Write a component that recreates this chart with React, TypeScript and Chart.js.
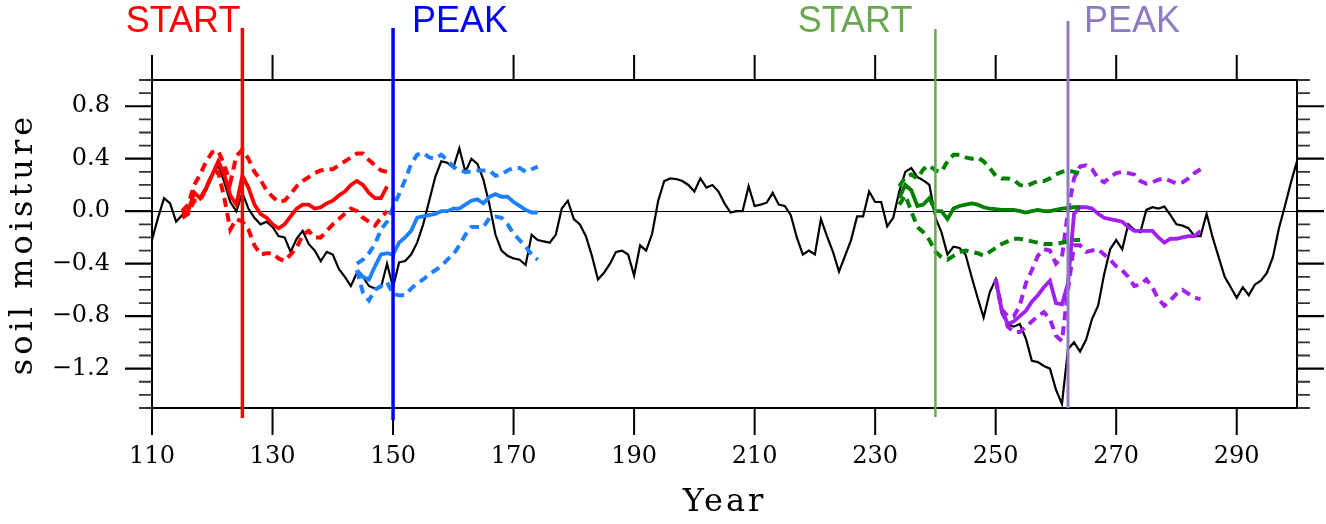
import React, { useEffect, useRef } from "react";
import { Chart, registerables } from "chart.js";

Chart.register(...registerables);

// ---------------- data ----------------
const xTickValues = [110, 130, 150, 170, 190, 210, 230, 250, 270, 290];
const yTickValues = [-1.2, -0.8, -0.4, 0, 0.4, 0.8];
const X_MIN = 110;
const X_MAX = 300;
const Y_MIN = -1.5;
const Y_MAX = 1.0;

const blackStart = 110;
const blackValues = [
  -0.22, -0.05, 0.10, 0.06, -0.08, -0.03, 0.00, 0.15, 0.09, 0.16,
  0.27, 0.35, 0.22, 0.07, 0.00, 0.14, 0.02, -0.05, -0.10, -0.08,
  -0.12, -0.19, -0.20, -0.31, -0.21, -0.15, -0.25, -0.30, -0.38, -0.31,
  -0.33, -0.44, -0.50, -0.57, -0.47, -0.50, -0.57, -0.59, -0.58, -0.40,
  -0.58, -0.39, -0.38, -0.33, -0.24, -0.10, 0.08, 0.26, 0.38, 0.37,
  0.33, 0.48, 0.30, 0.40, 0.36, 0.24, 0.05, -0.18, -0.30, -0.34,
  -0.36, -0.37, -0.41, -0.18, -0.22, -0.23, -0.24, -0.18, 0.02, 0.08,
  -0.06, -0.10, -0.19, -0.34, -0.52, -0.47, -0.40, -0.31, -0.30, -0.33,
  -0.49, -0.26, -0.30, -0.17, 0.08, 0.23, 0.25, 0.245, 0.23, 0.20,
  0.15, 0.25, 0.18, 0.20, 0.15, 0.06, -0.01, 0.00, 0.00, 0.19,
  0.04, 0.05, 0.065, 0.14, 0.05, 0.04, -0.03, -0.20, -0.33, -0.30,
  -0.33, -0.06, -0.19, -0.31, -0.46, -0.34, -0.22, -0.04, -0.04, 0.15,
  0.07, 0.07, -0.115, -0.05, 0.15, 0.30, 0.33, 0.26, 0.235, 0.20,
  -0.05, -0.16, -0.33, -0.27, -0.28, -0.33, -0.50, -0.66, -0.81, -0.62,
  -0.52, -0.78, -0.86, -0.88, -0.86, -0.97, -1.14, -1.15, -1.18, -1.20,
  -1.36, -1.47, -1.05, -1.00, -1.07, -0.98, -0.82, -0.72, -0.48, -0.29,
  -0.22, -0.29, -0.10, -0.14, -0.16, 0.01, 0.03, 0.02, 0.035, -0.03,
  -0.10, -0.11, -0.13, -0.19, -0.19, -0.02, -0.20, -0.35, -0.50, -0.58,
  -0.66, -0.58, -0.64, -0.56, -0.53, -0.47, -0.35, -0.13, 0.04, 0.22,
  0.38,
];

const redStart = 115;
const redMean = [
  -0.02, 0.00, 0.14, 0.10, 0.18, 0.28, 0.38, 0.28, 0.12, 0.05,
  0.27, 0.18, 0.05, -0.02, -0.05, -0.10, -0.13, -0.10, -0.04, 0.02,
  0.05, 0.05, 0.02, 0.03, 0.06, 0.08, 0.12, 0.15, 0.20, 0.23,
  0.20, 0.14, 0.10, 0.10, 0.19,
];
const redUpper = [
  0.00, 0.05, 0.20, 0.28, 0.38, 0.45, 0.46, 0.35, 0.22, 0.42,
  0.47, 0.40, 0.30, 0.24, 0.16, 0.11, 0.07, 0.08, 0.13, 0.19,
  0.23, 0.26, 0.29, 0.31, 0.32, 0.32, 0.35, 0.38, 0.41, 0.44,
  0.44, 0.39, 0.35, 0.31, 0.30,
];
const redLower = [
  -0.05, -0.02, 0.08, 0.08, 0.18, 0.28, 0.30, 0.10, -0.14, -0.06,
  -0.08, -0.14, -0.26, -0.33, -0.32, -0.32, -0.36, -0.38, -0.33, -0.28,
  -0.18, -0.15, -0.20, -0.20, -0.15, -0.10, -0.06, -0.02, 0.02, 0.00,
  -0.05, -0.08, -0.11, -0.05, 0.00,
];

const blueStart = 144;
const blueMean = [
  -0.45, -0.50, -0.52, -0.42, -0.33, -0.32, -0.33, -0.24, -0.20, -0.15,
  -0.05, -0.04, -0.03, -0.02, 0.00, 0.00, 0.02, 0.02, 0.05, 0.08,
  0.09, 0.06, 0.11, 0.13, 0.11, 0.11, 0.07, 0.04, 0.01, -0.01,
  -0.01,
];
const blueUpper = [
  -0.40, -0.37, -0.32, -0.25, -0.14, -0.08, 0.03, 0.13, 0.24, 0.36,
  0.43, 0.445, 0.41, 0.40, 0.43, 0.39, 0.34, 0.31, 0.30, 0.30,
  0.31, 0.31, 0.31, 0.27, 0.28, 0.31, 0.33, 0.33, 0.30, 0.32,
  0.34,
];
const blueLower = [
  -0.45, -0.62, -0.68, -0.60, -0.57, -0.54, -0.63, -0.64, -0.64, -0.59,
  -0.55, -0.52, -0.48, -0.45, -0.42, -0.37, -0.33, -0.26, -0.18, -0.12,
  -0.12, -0.12, -0.05, -0.04, -0.05, -0.10, -0.17, -0.22, -0.27, -0.33,
  -0.37,
];

const greenStart = 234;
const greenMean = [
  0.10, 0.20, 0.16, 0.04, 0.05, 0.10, 0.00, 0.00, -0.06, 0.02,
  0.04, 0.05, 0.06, 0.05, 0.03, 0.02, 0.015, 0.01, 0.01, 0.01,
  0.00, -0.01, 0.00, 0.01, 0.00, 0.00, 0.01, 0.02, 0.025, 0.03,
  0.03,
];
const greenUpper = [
  0.19, 0.26, 0.28, 0.25, 0.32, 0.35, 0.31, 0.30, 0.38, 0.43,
  0.43, 0.41, 0.40, 0.41, 0.38, 0.33, 0.27, 0.25, 0.25, 0.24,
  0.20, 0.19, 0.21, 0.23, 0.23, 0.25, 0.28, 0.30, 0.31, 0.30,
  0.29,
];
const greenLower = [
  0.05, 0.12, 0.00, -0.12, -0.16, -0.22, -0.31, -0.35, -0.37, -0.34,
  -0.31, -0.30, -0.31, -0.32, -0.34, -0.31, -0.28, -0.25, -0.23, -0.21,
  -0.21, -0.22, -0.23, -0.24, -0.25, -0.25, -0.25, -0.24, -0.23, -0.22,
  -0.22,
];

const purpleStart = 250;
const purpleMean = [
  -0.52, -0.75, -0.86, -0.84, -0.80, -0.76, -0.69, -0.64, -0.58, -0.53,
  -0.70, -0.71, -0.55, -0.02, 0.03, 0.03, 0.02, -0.02, -0.05, -0.06,
  -0.07, -0.08, -0.12, -0.15, -0.15, -0.15, -0.15, -0.20, -0.24, -0.21,
  -0.21, -0.20, -0.19, -0.19, -0.15,
];
const purpleUpper = [
  -0.52, -0.75, -0.80, -0.80, -0.72, -0.55, -0.45, -0.34, -0.29, -0.30,
  -0.40, -0.35, 0.00, 0.25, 0.34, 0.35, 0.32, 0.25, 0.22, 0.26,
  0.29, 0.30, 0.29, 0.28, 0.23, 0.21, 0.22, 0.24, 0.25, 0.23,
  0.21, 0.22, 0.25, 0.29, 0.32,
];
const purpleLower = [
  -0.52, -0.75, -0.88, -0.92, -0.92, -0.88, -0.84, -0.80, -0.77, -0.82,
  -0.95, -0.99, -0.60, -0.26, -0.26, -0.31, -0.30, -0.29, -0.33, -0.37,
  -0.42, -0.45, -0.50, -0.57, -0.56, -0.52, -0.58, -0.67, -0.72, -0.68,
  -0.63, -0.60, -0.63, -0.66, -0.67,
];

const eventYears = [125, 150, 240, 262];
const eventLabels = ["START", "PEAK", "START", "PEAK"];

// ---------------- styles ----------------
const eventColors = ["#FF0000", "#0000FF", "#6AA84F", "#8E7CC3"];
const eventLineWidths = [3.5, 3.5, 2.5, 3];
const eventLineTops = [28, 28, 29, 21];
const eventLineBottoms = [418, 420, 417, 408];
const eventTextAlign: CanvasTextAlign[] = ["right", "left", "right", "left"];
const eventTextOffset = [-2, 19, -23, 16];
const tickFont = { family: "'DejaVu Serif', serif", size: 24 };

const toPoints = (start: number, vals: number[]) =>
  vals.map((v, i) => ({ x: start + i, y: v }));

const fmtY = (v: number) => {
  const s = Math.abs(v).toFixed(1);
  return v < -1e-9 ? "\u2212" + s : s;
};

const framePlugin = {
  id: "frame",
  beforeDatasetsDraw(chart: any) {
    const { ctx, chartArea, scales } = chart;
    const y0 = Math.round(scales.y.getPixelForValue(0)) + 0.5;
    ctx.save();
    ctx.strokeStyle = "#000";
    ctx.lineWidth = 1.2;
    ctx.beginPath();
    ctx.moveTo(chartArea.left, y0);
    ctx.lineTo(chartArea.right, y0);
    ctx.stroke();
    ctx.restore();
  },
  afterDatasetsDraw(chart: any) {
    const { ctx, chartArea, scales } = chart;
    const { left, right, top, bottom } = chartArea;
    const xs = scales.x;
    const ys = scales.y;
    ctx.save();
    ctx.strokeStyle = "#000";
    ctx.lineWidth = 2;
    ctx.strokeRect(left, top, right - left, bottom - top);

    // x ticks (top and bottom, outward)
    ctx.lineWidth = 2;
    xTickValues.forEach((v) => {
      const px = xs.getPixelForValue(v);
      ctx.beginPath();
      ctx.moveTo(px, bottom);
      ctx.lineTo(px, bottom + 27);
      ctx.moveTo(px, top);
      ctx.lineTo(px, top - 25);
      ctx.stroke();
    });

    // y ticks (left and right, outward), major every 0.4, minor every 0.1
    for (let n = Math.round(Y_MIN * 10); n <= Math.round(Y_MAX * 10); n++) {
      const py = ys.getPixelForValue(n / 10);
      const major = n % 4 === 0;
      const len = major ? 27 : 13;
      ctx.lineWidth = major ? 2.2 : 1.8;
      ctx.strokeStyle = major ? "#000" : "#333";
      ctx.beginPath();
      ctx.moveTo(left, py);
      ctx.lineTo(left - len, py);
      ctx.moveTo(right, py);
      ctx.lineTo(right + len, py);
      ctx.stroke();
    }

    // event lines + labels
    eventYears.forEach((yr, i) => {
      const px = xs.getPixelForValue(yr);
      ctx.strokeStyle = eventColors[i];
      ctx.lineWidth = eventLineWidths[i];
      ctx.beginPath();
      ctx.moveTo(px, eventLineTops[i]);
      ctx.lineTo(px, eventLineBottoms[i]);
      ctx.stroke();
      ctx.fillStyle = eventColors[i];
      ctx.font = "36px 'Liberation Sans', Arial, sans-serif";
      ctx.textAlign = eventTextAlign[i];
      ctx.textBaseline = "alphabetic";
      ctx.fillText(eventLabels[i], px + eventTextOffset[i], 32);
    });

    // axis titles
    ctx.fillStyle = "#000";
    ctx.font = "32px 'DejaVu Serif', serif";
    (ctx as any).letterSpacing = "3px";
    ctx.textAlign = "center";
    ctx.textBaseline = "middle";
    ctx.fillText("Year", (left + right) / 2, 503);
    ctx.translate(24, (top + bottom) / 2);
    ctx.rotate(-Math.PI / 2);
    (ctx as any).letterSpacing = "4px";
    ctx.fillText("soil moisture", 0, 0);
    ctx.restore();
  },
};

export default function App() {
  const ref = useRef<HTMLCanvasElement>(null);

  useEffect(() => {
    if (!ref.current) return;
    const solid = (data: any[], color: string) => ({
      data,
      borderColor: color,
      borderWidth: 3.8,
      pointRadius: 0,
      fill: false,
      tension: 0,
      order: 1,
    });
    const dashed = (data: any[], color: string) => ({
      data,
      borderColor: color,
      borderWidth: 4,
      borderDash: [9, 6],
      pointRadius: 0,
      fill: false,
      tension: 0,
      order: 2,
    });

    const chart = new Chart(ref.current, {
      type: "line",
      data: {
        datasets: [
          solid(toPoints(redStart, redMean), "#FF0000"),
          dashed(toPoints(redStart, redUpper), "#FF0000"),
          dashed(toPoints(redStart, redLower), "#FF0000"),
          solid(toPoints(blueStart, blueMean), "#1E7FFF"),
          dashed(toPoints(blueStart, blueUpper), "#1E7FFF"),
          dashed(toPoints(blueStart, blueLower), "#1E7FFF"),
          solid(toPoints(greenStart, greenMean), "#008000"),
          dashed(toPoints(greenStart, greenUpper), "#008000"),
          dashed(toPoints(greenStart, greenLower), "#008000"),
          solid(toPoints(purpleStart, purpleMean), "#A020F0"),
          dashed(toPoints(purpleStart, purpleUpper), "#A020F0"),
          dashed(toPoints(purpleStart, purpleLower), "#A020F0"),
          {
            data: toPoints(blackStart, blackValues),
            borderColor: "#000",
            borderWidth: 2.2,
            pointRadius: 0,
            fill: false,
            tension: 0,
            order: 5,
          },
        ],
      },
      options: {
        responsive: false,
        animation: false,
        devicePixelRatio: 1,
        events: [],
        layout: { padding: { top: 80, right: 29, left: 0, bottom: 0 } },
        plugins: {
          legend: { display: false },
          tooltip: { enabled: false },
        },
        scales: {
          x: {
            type: "linear",
            position: "bottom",
            min: X_MIN,
            max: X_MAX,
            grid: { display: false, drawTicks: false },
            border: { display: false },
            afterBuildTicks: (s: any) => {
              s.ticks = xTickValues.map((v) => ({ value: v }));
            },
            afterFit: (s: any) => {
              s.height = 116;
            },
            ticks: {
              autoSkip: false,
              maxRotation: 0,
              padding: 34,
              color: "#000",
              font: tickFont,
              callback: (v: any) => String(v),
            },
          },
          y: {
            type: "linear",
            min: Y_MIN,
            max: Y_MAX,
            grid: { display: false, drawTicks: false },
            border: { display: false },
            afterBuildTicks: (s: any) => {
              s.ticks = yTickValues.map((v) => ({ value: v }));
            },
            afterFit: (s: any) => {
              s.width = 152;
            },
            ticks: {
              padding: 42,
              color: "#000",
              font: tickFont,
              callback: (v: any) => fmtY(Number(v)),
            },
          },
        },
      } as any,
      plugins: [framePlugin],
    } as any);
    return () => chart.destroy();
  }, []);

  return (
    <div style={{ position: "absolute", left: 0, top: 0, width: 1326, height: 524, background: "#fff" }}>
      <canvas ref={ref} width={1326} height={524} style={{ display: "block", width: 1326, height: 524 }} />
    </div>
  );
}
